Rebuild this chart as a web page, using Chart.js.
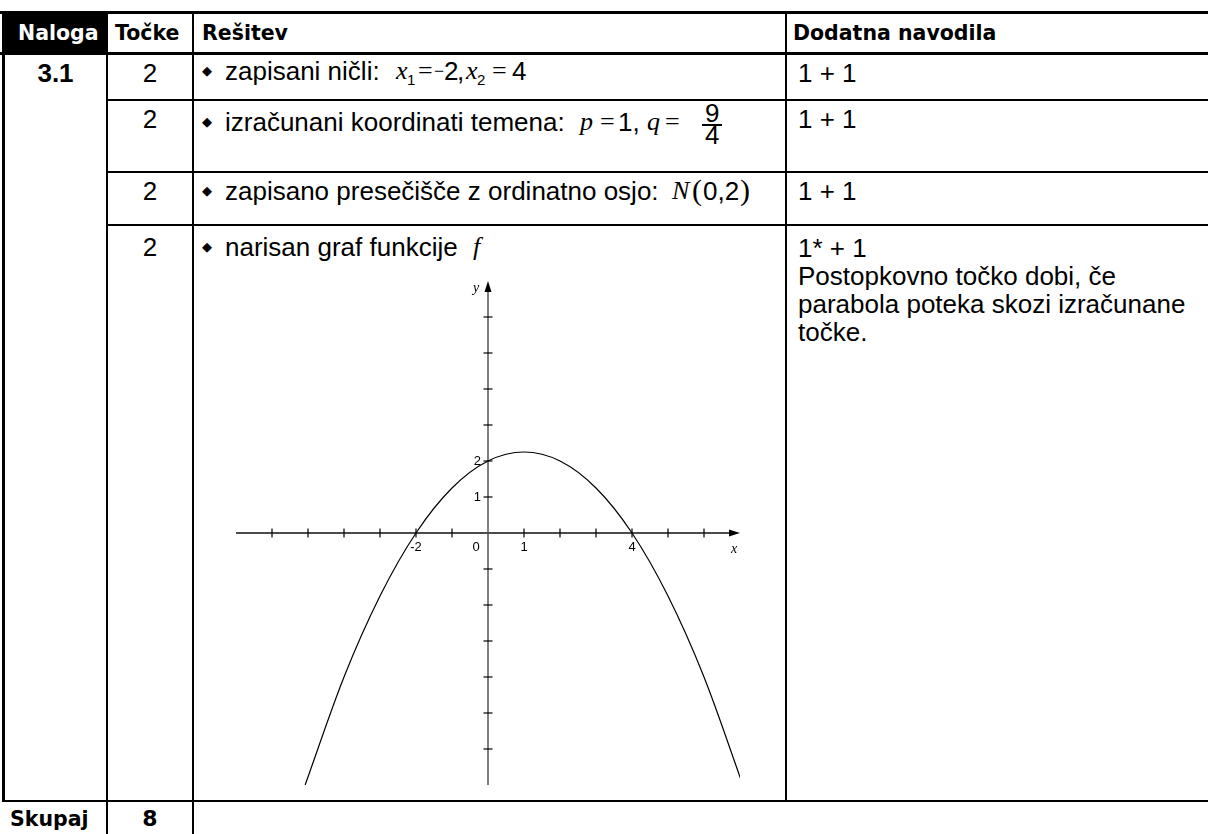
<!DOCTYPE html>
<html>
<head>
<meta charset="utf-8">
<script src="https://cdn.jsdelivr.net/npm/chart.js@4.4.1/dist/chart.umd.min.js"></script>
<style>
  html,body{margin:0;padding:0;background:#fff;}
  body{width:1208px;height:834px;overflow:hidden;position:relative;font-family:"Liberation Sans",Arial,sans-serif;color:#000;}
  .ln{position:absolute;background:#000;}
  .h{position:absolute;font-family:"DejaVu Sans",sans-serif;font-weight:bold;font-size:20.5px;line-height:1;white-space:nowrap;}
  .t{position:absolute;font-size:26px;line-height:1;white-space:nowrap;}
  .m{position:absolute;font-family:"Liberation Serif","Times New Roman",serif;font-size:26px;line-height:1;white-space:nowrap;}
  .mi{font-style:italic;}
  .sb{position:absolute;font-size:15px;line-height:1;white-space:nowrap;}
  .bul{position:absolute;font-family:"DejaVu Sans",sans-serif;font-size:13px;line-height:1;}
  .c{text-align:center;}
  #chartBox{position:absolute;left:226px;top:270px;width:524px;height:527px;}
</style>
</head>
<body>
<!-- table rules -->
<div class="ln" style="left:2px;top:11px;width:105px;height:44px;"></div>
<div class="ln" style="left:0;top:11px;width:1208px;height:3px;"></div>
<div class="ln" style="left:0;top:52px;width:1208px;height:3px;"></div>
<div class="ln" style="left:2px;top:11px;width:3px;height:790px;"></div>
<div class="ln" style="left:106px;top:11px;width:2px;height:823px;"></div>
<div class="ln" style="left:192px;top:11px;width:2px;height:823px;"></div>
<div class="ln" style="left:785px;top:11px;width:2px;height:790px;"></div>
<div class="ln" style="left:106px;top:99px;width:1102px;height:2px;"></div>
<div class="ln" style="left:106px;top:171px;width:1102px;height:2px;"></div>
<div class="ln" style="left:106px;top:224px;width:1102px;height:2px;"></div>
<div class="ln" style="left:2px;top:800px;width:1206px;height:2px;"></div>

<!-- header -->
<div class="h" style="left:18px;top:23px;color:#fff;">Naloga</div>
<div class="h" style="left:115px;top:23px;">Točke</div>
<div class="h" style="left:202px;top:23px;">Rešitev</div>
<div class="h" style="left:793px;top:23px;">Dodatna navodila</div>

<!-- column 1 / 2 -->
<div class="t c" style="left:5px;width:101px;top:60px;font-weight:bold;">3.1</div>
<div class="t c" style="left:108px;width:84px;top:60px;">2</div>
<div class="t c" style="left:108px;width:84px;top:106px;">2</div>
<div class="t c" style="left:108px;width:84px;top:178px;">2</div>
<div class="t c" style="left:108px;width:84px;top:234px;">2</div>

<!-- row 1 -->
<div class="bul" style="left:202px;top:64px;">◆</div>
<div class="t" style="left:225px;top:58px;">zapisani ničli:</div>
<div class="m mi" style="left:396px;top:58px;">x</div>
<div class="sb" style="left:407px;top:72px;">1</div>
<div class="m" style="left:418px;top:58px;">=</div>
<div class="m" style="left:434px;top:62px;font-size:18px;">−</div>
<div class="t" style="left:444px;top:58px;">2</div>
<div class="t" style="left:457px;top:58px;">,</div>
<div class="m mi" style="left:466px;top:58px;">x</div>
<div class="sb" style="left:477px;top:72px;">2</div>
<div class="m" style="left:492px;top:58px;">=</div>
<div class="t" style="left:512px;top:58px;">4</div>

<!-- row 2 -->
<div class="bul" style="left:202px;top:115px;">◆</div>
<div class="t" style="left:225px;top:109px;">izračunani koordinati temena:</div>
<div class="m mi" style="left:580px;top:109px;">p</div>
<div class="m" style="left:600px;top:109px;">=</div>
<div class="t" style="left:618px;top:109px;">1,</div>
<div class="m mi" style="left:647px;top:109px;">q</div>
<div class="m" style="left:665px;top:109px;">=</div>
<div class="t" style="left:705px;top:100px;">9</div>
<div class="ln" style="left:702px;top:124px;width:20px;height:1.5px;"></div>
<div class="t" style="left:705px;top:122px;">4</div>

<!-- row 3 -->
<div class="bul" style="left:202px;top:184px;">◆</div>
<div class="t" style="left:225px;top:178px;">zapisano presečišče z ordinatno osjo:</div>
<div class="m mi" style="left:672px;top:178px;">N</div>
<div class="m" style="left:692px;top:175px;font-size:30px;">(</div>
<div class="t" style="left:703px;top:178px;">0,2</div>
<div class="m" style="left:740px;top:175px;font-size:30px;">)</div>

<!-- row 4 -->
<div class="bul" style="left:202px;top:240px;">◆</div>
<div class="t" style="left:225px;top:234px;">narisan graf funkcije</div>
<div class="m mi" style="left:473px;top:234px;">f</div>

<!-- column 4 -->
<div class="t" style="left:798px;top:60px;">1 + 1</div>
<div class="t" style="left:798px;top:106px;">1 + 1</div>
<div class="t" style="left:798px;top:178px;">1 + 1</div>
<div class="t" style="left:798px;top:234px;line-height:28px;">1* + 1<br>Postopkovno točko dobi, če<br>parabola poteka skozi izračunane<br>točke.</div>

<!-- total row -->
<div class="h" style="left:10px;top:809px;">Skupaj</div>
<div class="h c" style="left:108px;width:84px;top:808px;font-size:22px;">8</div>

<div id="chartBox"><canvas id="c" width="524" height="527"></canvas></div>

<script>
// ---- data ----
const curveX = [-5.08, -4, -3, -2, -1, 0, 1, 2, 3, 4, 5, 6, 7.08];
const curveY = [-7, -4, -1.75, 0, 1.25, 2, 2.25, 2, 1.25, 0, -1.75, -4, -7];
const xTicks = [-6, -5, -4, -3, -2, -1, 1, 2, 3, 4, 5, 6];
const yTicks = [-6, -5, -4, -3, -2, -1, 1, 2, 3, 4, 5, 6];
const xLabelValues = [-2, 0, 1, 4];
const xLabelTexts = ['-2', '0', '1', '4'];
const yLabelValues = [1, 2];
const yLabelTexts = ['1', '2'];
const axisMin = -7;
const axisMax = 7;

const points = curveX.map((x, i) => ({ x: x, y: curveY[i] }));

const originAxes = {
  id: 'originAxes',
  beforeDatasetsDraw(chart) {
    const ctx = chart.ctx;
    const sx = chart.scales.x, sy = chart.scales.y;
    const x0 = sx.getPixelForValue(0), y0 = sy.getPixelForValue(0);
    const xL = sx.getPixelForValue(axisMin), xR = sx.getPixelForValue(axisMax);
    const yB = sy.getPixelForValue(axisMin), yT = sy.getPixelForValue(axisMax);
    ctx.save();
    // x axis
    ctx.strokeStyle = '#111'; ctx.lineWidth = 1.4;
    ctx.beginPath(); ctx.moveTo(xL, y0); ctx.lineTo(xR - 6, y0); ctx.stroke();
    ctx.fillStyle = '#000';
    ctx.beginPath(); ctx.moveTo(xR, y0); ctx.lineTo(xR - 11, y0 - 3.5); ctx.lineTo(xR - 11, y0 + 3.5); ctx.closePath(); ctx.fill();
    // y axis
    ctx.strokeStyle = '#555'; ctx.lineWidth = 1.5;
    ctx.beginPath(); ctx.moveTo(x0, yB); ctx.lineTo(x0, yT + 6); ctx.stroke();
    ctx.beginPath(); ctx.moveTo(x0, yT); ctx.lineTo(x0 - 3.5, yT + 11); ctx.lineTo(x0 + 3.5, yT + 11); ctx.closePath(); ctx.fill();
    // ticks
    ctx.strokeStyle = '#000'; ctx.lineWidth = 1.2;
    xTicks.forEach(v => { const p = sx.getPixelForValue(v); ctx.beginPath(); ctx.moveTo(p, y0 - 4.5); ctx.lineTo(p, y0 + 4.5); ctx.stroke(); });
    yTicks.forEach(v => { const p = sy.getPixelForValue(v); ctx.beginPath(); ctx.moveTo(x0 - 4.5, p); ctx.lineTo(x0 + 4.5, p); ctx.stroke(); });
    // tick labels
    ctx.font = '13px "Liberation Sans", Arial, sans-serif';
    ctx.textBaseline = 'middle';
    ctx.textAlign = 'center';
    xLabelValues.forEach((v, i) => {
      const p = sx.getPixelForValue(v);
      ctx.fillText(xLabelTexts[i], v === 0 ? p - 12 : p, y0 + 14);
    });
    ctx.textAlign = 'right';
    yLabelValues.forEach((v, i) => {
      ctx.fillText(yLabelTexts[i], x0 - 7, sy.getPixelForValue(v));
    });
    // axis names
    ctx.font = 'italic 14px "Liberation Serif", "Times New Roman", serif';
    ctx.textAlign = 'center';
    ctx.fillText('y', x0 - 12, yT + 7);
    ctx.fillText('x', xR - 6, y0 + 16);
    ctx.restore();
  }
};

new Chart(document.getElementById('c'), {
  type: 'scatter',
  data: {
    datasets: [{
      data: points,
      showLine: true,
      borderColor: '#000',
      borderWidth: 1.2,
      pointRadius: 0,
      cubicInterpolationMode: 'monotone',
      fill: false
    }]
  },
  options: {
    responsive: false,
    animation: false,
    devicePixelRatio: 1,
    layout: { padding: { left: 10, right: 10, top: 11, bottom: 12 } },
    plugins: { legend: { display: false }, tooltip: { enabled: false } },
    scales: {
      x: { type: 'linear', min: axisMin, max: axisMax, display: false },
      y: { type: 'linear', min: axisMin, max: axisMax, display: false }
    }
  },
  plugins: [originAxes]
});
</script>
</body>
</html>
